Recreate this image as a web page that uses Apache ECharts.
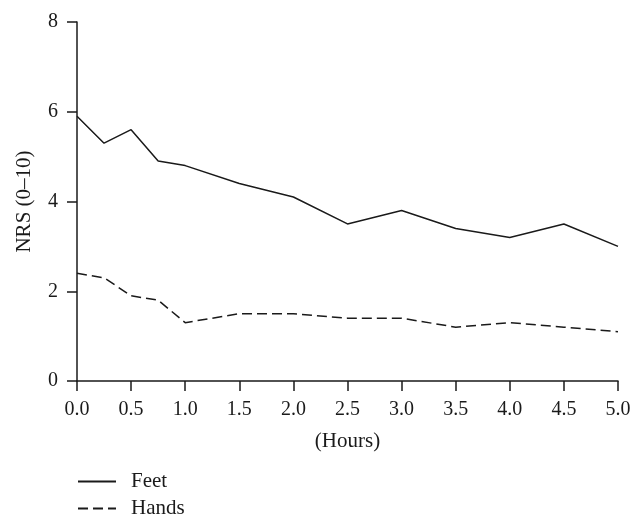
<!DOCTYPE html>
<html><head><meta charset="utf-8">
<script src="https://cdn.jsdelivr.net/npm/echarts@6/dist/echarts.min.js"></script>
<style>html,body{margin:0;padding:0;background:#fff}#c{width:644px;height:529px}</style>
</head><body><div id="c"></div>
<script>
const hours = [0, 0.25, 0.5, 0.75, 1.0, 1.5, 2.0, 2.5, 3.0, 3.5, 4.0, 4.5, 5.0];
const feet  = [5.9, 5.3, 5.6, 4.9, 4.8, 4.4, 4.1, 3.5, 3.8, 3.4, 3.2, 3.5, 3.0];
const hands = [2.4, 2.3, 1.9, 1.8, 1.3, 1.5, 1.5, 1.4, 1.4, 1.2, 1.3, 1.2, 1.1];
const font = 'Liberation Serif';
const ink = '#1a1a1a';
const chart = echarts.init(document.getElementById('c'));
chart.setOption({
  animation: false,
  backgroundColor: '#fff',
  textStyle: {fontFamily: font, color: ink},
  grid: {left: 77, right: 26, top: 22, bottom: 148},
  xAxis: {
    type: 'value', min: 0, max: 5, interval: 0.5,
    name: '(Hours)', nameLocation: 'middle', nameGap: 50,
    nameTextStyle: {fontFamily: font, fontSize: 21, color: ink},
    axisLine: {show: true, lineStyle: {color: ink, width: 1.5}},
    axisTick: {show: true, inside: false, length: 10, lineStyle: {color: ink, width: 1.5}},
    axisLabel: {fontFamily: font, fontSize: 20, color: ink, margin: 19, formatter: v => v.toFixed(1)},
    splitLine: {show: false}
  },
  yAxis: {
    type: 'value', min: 0, max: 8, interval: 2,
    name: 'NRS (0–10)', nameLocation: 'middle', nameGap: 42, nameRotate: 90,
    nameTextStyle: {fontFamily: font, fontSize: 21, color: ink},
    axisLine: {show: true, lineStyle: {color: ink, width: 1.5}},
    axisTick: {show: true, inside: false, length: 10, lineStyle: {color: ink, width: 1.5}},
    axisLabel: {fontFamily: font, fontSize: 20, color: ink, margin: 19},
    splitLine: {show: false}
  },
  legend: {
    orient: 'vertical', left: 77, top: 471, padding: 0, itemWidth: 38, itemHeight: 12, itemGap: 6,
    itemStyle: {opacity: 0},
    textStyle: {fontFamily: font, fontSize: 21, color: ink, padding: [0,0,0,10]},
    data: ['Feet', 'Hands']
  },
  series: [
    {name: 'Feet', type: 'line', symbol: 'none', data: hours.map((h, i) => [h, feet[i]]),
     lineStyle: {color: ink, width: 1.5}, itemStyle: {color: ink}},
    {name: 'Hands', type: 'line', symbol: 'none', data: hours.map((h, i) => [h, hands[i]]),
     lineStyle: {color: ink, width: 1.5, type: [10, 5]}, itemStyle: {color: ink}}
  ]
});
</script></body></html>
